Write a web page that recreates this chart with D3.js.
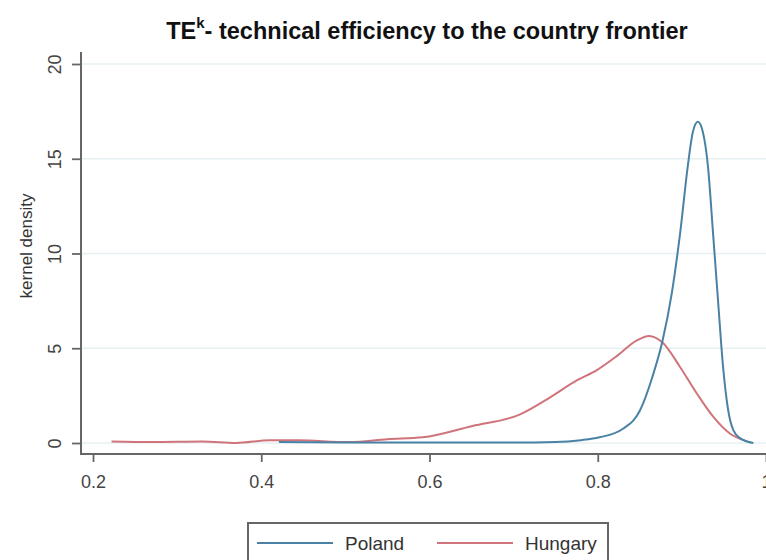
<!DOCTYPE html>
<html>
<head>
<meta charset="utf-8">
<script src="https://cdn.jsdelivr.net/npm/d3@7"></script>
<style>
  body { margin: 0; background: #fff; overflow: hidden; }
  text { font-family: "Liberation Sans", Arial, sans-serif; }
</style>
</head>
<body>
<div id="chart"></div>
<script>
// kernel density estimates
var polandX = [0.421, 0.5, 0.6, 0.7, 0.75, 0.78, 0.802, 0.83, 0.85, 0.865, 0.877, 0.888, 0.898, 0.907, 0.913, 0.919, 0.925, 0.931, 0.937, 0.943, 0.949, 0.955, 0.961, 0.969, 0.985];
var polandY = [0.05, 0.03, 0.02, 0.02, 0.05, 0.15, 0.3, 0.75, 1.7, 3.5, 5.4, 7.9, 11.1, 14.6, 16.4, 16.95, 16.4, 14.6, 11.1, 7.5, 4.0, 1.74, 0.69, 0.26, 0.0];
var hungaryX = [0.222, 0.27, 0.33, 0.37, 0.41, 0.445, 0.505, 0.55, 0.592, 0.651, 0.707, 0.743, 0.775, 0.799, 0.823, 0.846, 0.861, 0.877, 0.898, 0.918, 0.937, 0.957, 0.977];
var hungaryY = [0.08, 0.05, 0.08, 0.0, 0.15, 0.14, 0.05, 0.2, 0.3, 0.9, 1.5, 2.4, 3.3, 3.85, 4.6, 5.4, 5.65, 5.3, 4.0, 2.6, 1.4, 0.5, 0.1];
var xTicks = [0.2, 0.4, 0.6, 0.8, 1];
var yTicks = [0, 5, 10, 15, 20];
var seriesNames = ["Poland", "Hungary"];
var seriesColors = ["#4a82a6", "#d0747c"];

var w = 766, h = 560;
var svg = d3.select("#chart").append("svg").attr("width", w).attr("height", h);

var x = d3.scaleLinear().domain([0.2, 1]).range([93, 766]);
var y = d3.scaleLinear().domain([0, 20]).range([443, 64]);

// gridlines
svg.append("g").selectAll("line").data(yTicks).enter().append("line")
  .attr("x1", 82).attr("x2", w)
  .attr("y1", function(d) { return y(d); }).attr("y2", function(d) { return y(d); })
  .attr("stroke", "#e6f0f2").attr("stroke-width", 1.5);

// y axis
var yAxis = d3.axisLeft(y).tickValues(yTicks).tickSize(9).tickFormat(d3.format("d"));
var gy = svg.append("g").attr("transform", "translate(81,0)").call(yAxis);
gy.select(".domain").remove();
gy.append("line").attr("x1", 0).attr("x2", 0).attr("y1", 52).attr("y2", 455).attr("stroke", "#666").attr("stroke-width", 2);
gy.selectAll(".tick line").attr("stroke", "#666").attr("stroke-width", 1.8);
gy.selectAll(".tick text")
  .attr("font-size", 18).attr("fill", "#444")
  .attr("x", 0).attr("y", 0).attr("dy", "0.35em")
  .attr("text-anchor", "middle")
  .attr("transform", "translate(-26,0) rotate(-90)");

// x axis
var xAxis = d3.axisBottom(x).tickValues(xTicks).tickSize(8).tickPadding(13)
  .tickFormat(function(d) { return d === 1 ? "1" : d3.format(".1f")(d); });
var gx = svg.append("g").attr("transform", "translate(0,454)").call(xAxis);
gx.select(".domain").remove();
gx.append("line").attr("x1", 80).attr("x2", w).attr("y1", 0).attr("y2", 0).attr("stroke", "#666").attr("stroke-width", 2);
gx.selectAll(".tick line").attr("stroke", "#666").attr("stroke-width", 1.8);
gx.selectAll(".tick text").attr("font-size", 18).attr("fill", "#444");

// curves
var line = d3.line()
  .x(function(d) { return x(d[0]); })
  .y(function(d) { return y(d[1]); })
  .curve(d3.curveMonotoneX);

var hungary = hungaryX.map(function(v, i) { return [v, hungaryY[i]]; });
var poland = polandX.map(function(v, i) { return [v, polandY[i]]; });

svg.append("path").datum(hungary).attr("d", line)
  .attr("fill", "none").attr("stroke", seriesColors[1]).attr("stroke-width", 2);
svg.append("path").datum(poland).attr("d", line)
  .attr("fill", "none").attr("stroke", seriesColors[0]).attr("stroke-width", 2);

// title
var title = svg.append("text").attr("x", 427).attr("y", 39).attr("text-anchor", "middle")
  .attr("font-size", 23.5).attr("font-weight", "bold").attr("fill", "#111");
title.append("tspan").text("TE");
title.append("tspan").attr("font-size", 15).attr("dy", -11).text("k");
title.append("tspan").attr("dy", 11).text("- technical efficiency to the country frontier");

// y label
svg.append("text").attr("transform", "translate(32,246) rotate(-90)")
  .attr("text-anchor", "middle").attr("font-size", 17).attr("fill", "#333")
  .text("kernel density");

// legend
var lg = svg.append("g");
lg.append("rect").attr("x", 248).attr("y", 523).attr("width", 360).attr("height", 45)
  .attr("fill", "#fff").attr("stroke", "#666").attr("stroke-width", 2);
var lx = [257, 437];
seriesNames.forEach(function(n, i) {
  lg.append("line").attr("x1", lx[i]).attr("x2", lx[i] + 76).attr("y1", 543).attr("y2", 543)
    .attr("stroke", seriesColors[i]).attr("stroke-width", 2);
  lg.append("text").attr("x", lx[i] + 88).attr("y", 550).attr("font-size", 19).attr("fill", "#333").text(n);
});
</script>
</body>
</html>
